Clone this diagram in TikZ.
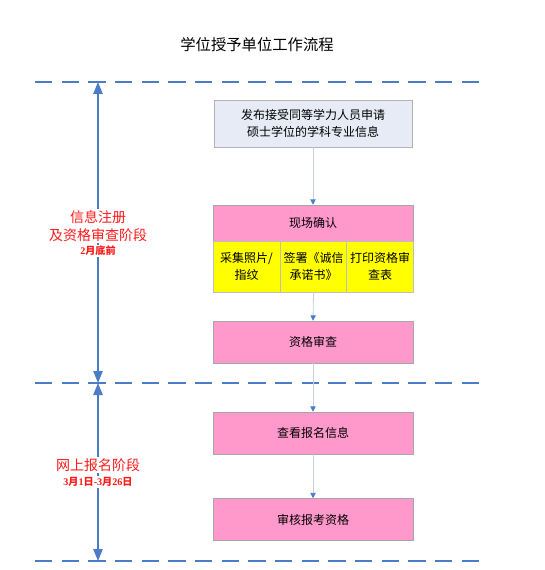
\documentclass[tikz,border=0pt]{standalone}
\usepackage{fontspec}
\setmainfont{Liberation Serif}
\newfontfamily\cjk{Noto Sans CJK SC}
\usetikzlibrary{arrows.meta}
\definecolor{dashblue}{HTML}{4A7CC8}
\definecolor{boxpink}{HTML}{FF99CC}
\definecolor{boxyellow}{HTML}{FFFF00}
\definecolor{boxgray}{HTML}{E6EBF5}
\definecolor{linkgray}{HTML}{C8D0DC}
\definecolor{labelred}{HTML}{FF1A1A}
\tikzset{
  sep/.style={draw=dashblue, line width=2pt, dash pattern=on 13pt off 7pt},
  span/.style={draw=dashblue, line width=1pt, {Triangle[length=9pt,width=7pt]}-{Triangle[length=9pt,width=7pt]}},
  pinkbox/.style={draw=black!35, fill=boxpink, minimum width=150pt, minimum height=31.5pt, inner sep=0pt, font=\cjk\fontsize{9}{11}\selectfont},
  yelbox/.style={draw=black!25, fill=boxyellow, minimum width=50pt, minimum height=38pt, inner sep=1pt, align=center, font=\cjk\fontsize{9}{13}\selectfont},
  link/.style={draw=linkgray, line width=0.6pt, -{Triangle[length=4pt,width=4pt,color=dashblue]}},
  redlabel/.style={text=labelred, align=center, font=\cjk\fontsize{10.5}{14}\selectfont},
  datelabel/.style={text=labelred, font=\bfseries\fontsize{7.6}{9}\selectfont}
}
\begin{document}
\begin{tikzpicture}[x=0.75pt,y=-0.75pt]
\useasboundingbox (0,0) rectangle (544,570);
\node[font=\cjk\fontsize{11.5}{13}\selectfont] (title) at (257,45) {学位授予单位工作流程};
% separators
\coordinate (s1l) at (35,82); \coordinate (s1r) at (484,82);
\coordinate (s2l) at (35,383); \coordinate (s2r) at (484,383);
\coordinate (s3l) at (35,561); \coordinate (s3r) at (484,561);
\draw[sep] (s1l) -- (s1r);
\draw[sep] (s2l) -- (s2r);
\draw[sep] (s3l) -- (s3r);
% spans
\coordinate (a1) at (98,82); \coordinate (a2) at (98,383); \coordinate (a3) at (98,561);
\draw[span] (a1) -- (a2);
\draw[span] (a2) -- (a3);
% boxes
\node[draw=black!30, fill=boxgray, minimum width=148.5pt, minimum height=35pt, inner sep=0pt, align=center, font=\cjk\fontsize{9}{13}\selectfont] (b1) at (313,123.5) {发布接受同等学力人员申请\\硕士学位的学科专业信息};
\node[pinkbox, minimum height=27pt] (b2) at (313,223) {现场确认};
\node[yelbox] (y1) at (246.5,266.5) {采集照片/\\指纹};
\node[yelbox] (y2) at (313.5,266.5) {签署《诚信\\承诺书》};
\node[yelbox] (y3) at (380,266.5) {打印资格审\\查表};
\node[pinkbox] (b3) at (313,342) {资格审查};
\node[pinkbox] (b4) at (313,433) {查看报名信息};
\node[pinkbox] (b5) at (313,519.5) {审核报考资格};
% links
\draw[link] (b1.south) -- (b2.north);
\draw[link] (y2.south) -- (b3.north);
\draw[link] (b3.south) -- (b4.north);
\draw[link] (b4.south) -- (b5.north);
% labels
\node[redlabel, fill=white, inner sep=1pt] (l1) at (98,226) {信息注册\\及资格审查阶段};
\node[datelabel, fill=white, inner sep=1pt] (d1) at (98,251) {2{\cjk 月底前}};
\node[redlabel, fill=white, inner sep=1pt] (l2) at (98,465) {网上报名阶段};
\node[datelabel, fill=white, inner sep=1pt] (d2) at (98,482) {3{\cjk 月}1{\cjk 日}-3{\cjk 月}26{\cjk 日}};
\end{tikzpicture}
\end{document}
